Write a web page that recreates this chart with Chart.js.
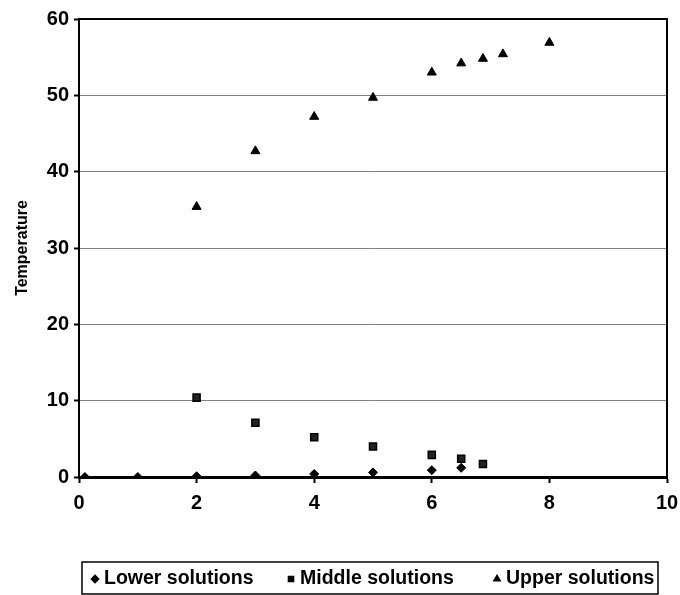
<!DOCTYPE html>
<html>
<head>
<meta charset="utf-8">
<script src="https://cdn.jsdelivr.net/npm/chart.js@4/dist/chart.umd.min.js"></script>
<style>
  body { margin: 0; background: #fff; }
</style>
</head>
<body>
<canvas id="myChart" width="680" height="595"></canvas>
<script>
// values
const lowerX = [0.1, 1, 2, 3, 4, 5, 6, 6.5];
const lowerY = [0, 0, 0.1, 0.2, 0.4, 0.6, 0.9, 1.2];

const middleX = [2, 3, 4, 5, 6, 6.5, 6.87];
const middleY = [10.4, 7.1, 5.2, 4.0, 2.9, 2.4, 1.7];

const upperX = [2, 3, 4, 5, 6, 6.5, 6.87, 7.21, 8];
const upperY = [35.4, 42.7, 47.2, 49.7, 53.0, 54.2, 54.8, 55.4, 56.9];

const seriesNames = ['Lower solutions', 'Middle solutions', 'Upper solutions'];
const yTitle = 'Temperature';

const toPoints = (xs, ys) => xs.map((x, i) => ({ x: x, y: ys[i] }));

const FONT = '"Liberation Sans", Arial, sans-serif';

// black frame round the plot area
const framePlugin = {
  id: 'frame',
  beforeDatasetsDraw(chart) {
    const a = chart.chartArea;
    const ctx = chart.ctx;
    ctx.save();
    ctx.strokeStyle = '#000';
    ctx.lineWidth = 2;
    ctx.beginPath();
    ctx.moveTo(a.left, a.top);
    ctx.lineTo(a.right, a.top);
    ctx.lineTo(a.right, a.bottom);
    ctx.stroke();
    ctx.restore();
  }
};

// boxed legend under the chart
const boxLegend = {
  id: 'boxLegend',
  afterDraw(chart) {
    const ctx = chart.ctx;
    const left = 82, right = 658, top = 562, bottom = 594;
    const markerX = [95, 291, 497];
    ctx.save();
    ctx.strokeStyle = '#000';
    ctx.lineWidth = 1.5;
    ctx.strokeRect(left, top, right - left, bottom - top);
    ctx.font = 'bold 19.5px ' + FONT;
    ctx.textBaseline = 'middle';
    const cy = (top + bottom) / 2 + 1;
    chart.data.datasets.forEach((ds, i) => {
      const x = markerX[i];
      ctx.fillStyle = '#000';
      ctx.strokeStyle = '#000';
      Chart.helpers.drawPoint(ctx, {
        pointStyle: ds.pointStyle,
        radius: 3.6,
        borderWidth: 1
      }, x, cy);
      ctx.fillText(ds.label, x + 9, cy);
    });
    ctx.restore();
  }
};

const ctx = document.getElementById('myChart').getContext('2d');

new Chart(ctx, {
  type: 'scatter',
  data: {
    datasets: [
      {
        label: seriesNames[0],
        data: toPoints(lowerX, lowerY),
        pointStyle: 'rectRot',
        pointRadius: 4.5,
        backgroundColor: '#000',
        borderColor: '#000',
        borderWidth: 1
      },
      {
        label: seriesNames[1],
        data: toPoints(middleX, middleY),
        pointStyle: 'rect',
        pointRadius: 5,
        backgroundColor: '#222',
        borderColor: '#000',
        borderWidth: 1.5
      },
      {
        label: seriesNames[2],
        data: toPoints(upperX, upperY),
        pointStyle: 'triangle',
        pointRadius: 5.2,
        backgroundColor: '#000',
        borderColor: '#000',
        borderWidth: 1
      }
    ]
  },
  options: {
    responsive: false,
    animation: false,
    devicePixelRatio: 1,
    layout: { padding: { top: 19, right: 13, bottom: 0, left: 0 } },
    plugins: {
      legend: { display: false },
      tooltip: { enabled: false }
    },
    scales: {
      x: {
        type: 'linear',
        min: 0,
        max: 10,
        afterFit(scale) {
          scale.height = 118;
          scale.paddingLeft = 0;
          scale.paddingRight = 0;
        },
        ticks: {
          stepSize: 2,
          color: '#000',
          padding: 8,
          maxRotation: 0,
          font: { family: FONT, size: 20, weight: 'bold' }
        },
        grid: {
          drawOnChartArea: false,
          drawTicks: true,
          tickLength: 6,
          tickColor: '#000',
          tickWidth: 2
        },
        border: { display: true, color: '#000', width: 3 }
      },
      y: {
        min: 0,
        max: 60,
        afterFit(scale) { scale.width = 79; },
        ticks: {
          stepSize: 10,
          color: '#000',
          padding: 5,
          font: { family: FONT, size: 20, weight: 'bold' }
        },
        grid: {
          color: '#808080',
          lineWidth: 1,
          drawTicks: true,
          tickLength: 5,
          tickColor: '#000',
          tickWidth: 2
        },
        border: { display: true, color: '#000', width: 2 },
        title: {
          display: true,
          text: yTitle,
          color: '#000',
          padding: { top: 13, bottom: 0 },
          font: { family: FONT, size: 16, weight: 'bold' }
        }
      }
    }
  },
  plugins: [framePlugin, boxLegend]
});
</script>
</body>
</html>
